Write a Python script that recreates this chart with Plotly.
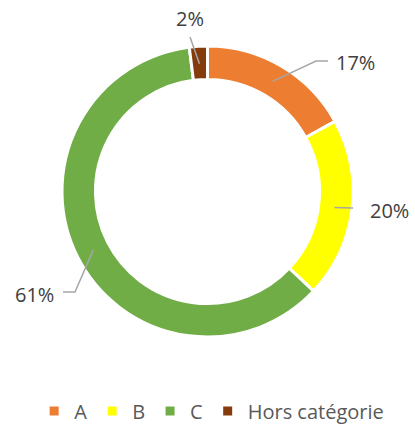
import math
import plotly.graph_objects as go

# ---- data ----
categories = ["A", "B", "C", "Hors catégorie"]
values = [17, 20, 61, 2]
pct_labels = ["17%", "20%", "61%", "2%"]

# ---- styles ----
colors = ["#ED7D31", "#FFFF00", "#70AD47", "#843C0C"]
W, H = 415, 428
CX, CY, R = 207.5, 191.5, 145.5
HOLE = 0.77
FONT = "Open Sans"
LINE_COLOR = "#A6A6A6"
# label layout (pixel): elbow point, tail end, text anchor, text align
label_layout = [
    dict(elbow=(316, 61), tail=(328, 61), text=(334, 63), anchor="left"),
    dict(elbow=None, tail=(353, 208), text=(368, 210), anchor="left"),
    dict(elbow=(75, 292), tail=(63, 292), text=(56, 294), anchor="right"),
    dict(elbow=None, tail=(190, 37), text=(190, 19), anchor="center"),
]
START_R = 128


def px(x):
    return x / W


def py(y):
    return 1 - y / H


fig = go.Figure(
    go.Pie(
        labels=categories,
        values=values,
        hole=HOLE,
        sort=False,
        direction="clockwise",
        rotation=0,
        textinfo="none",
        hoverinfo="label+percent",
        marker=dict(colors=colors, line=dict(color="white", width=3)),
        domain=dict(x=[0, 1], y=[py(CY + R), py(CY - R)]),
    )
)

total = sum(values)
cum = 0
shapes = []
annotations = []
for v, lab, lay in zip(values, pct_labels, label_layout):
    mid = (cum + v / 2) / total * 2 * math.pi
    cum += v
    sx = CX + START_R * math.sin(mid)
    sy = CY - START_R * math.cos(mid)
    pts = [(sx, sy)]
    if lay["elbow"]:
        pts.append(lay["elbow"])
    pts.append(lay["tail"])
    path = "M " + " L ".join(f"{px(a):.5f},{py(b):.5f}" for a, b in pts)
    shapes.append(dict(type="path", path=path, xref="paper", yref="paper",
                       line=dict(color=LINE_COLOR, width=1.5)))
    tx, ty = lay["text"]
    annotations.append(dict(text=lab, x=px(tx), y=py(ty), xref="paper", yref="paper",
                            xanchor=lay["anchor"], yanchor="middle", showarrow=False,
                            font=dict(family=FONT, size=20, color="#404040")))

fig.update_layout(
    width=W, height=H,
    margin=dict(l=0, r=0, t=0, b=0, autoexpand=False),
    paper_bgcolor="white",
    plot_bgcolor="white",
    shapes=shapes,
    annotations=annotations,
    showlegend=True,
    legend=dict(orientation="h", x=0.51, xanchor="center", y=py(411), yanchor="middle",
                font=dict(family=FONT, size=20, color="#595959"),
                itemclick=False, traceorder="normal"),
)

fig.write_html("out.html",
               config=dict(displayModeBar=False),
               post_script="document.body.style.margin='0';document.body.style.overflow='hidden';")
